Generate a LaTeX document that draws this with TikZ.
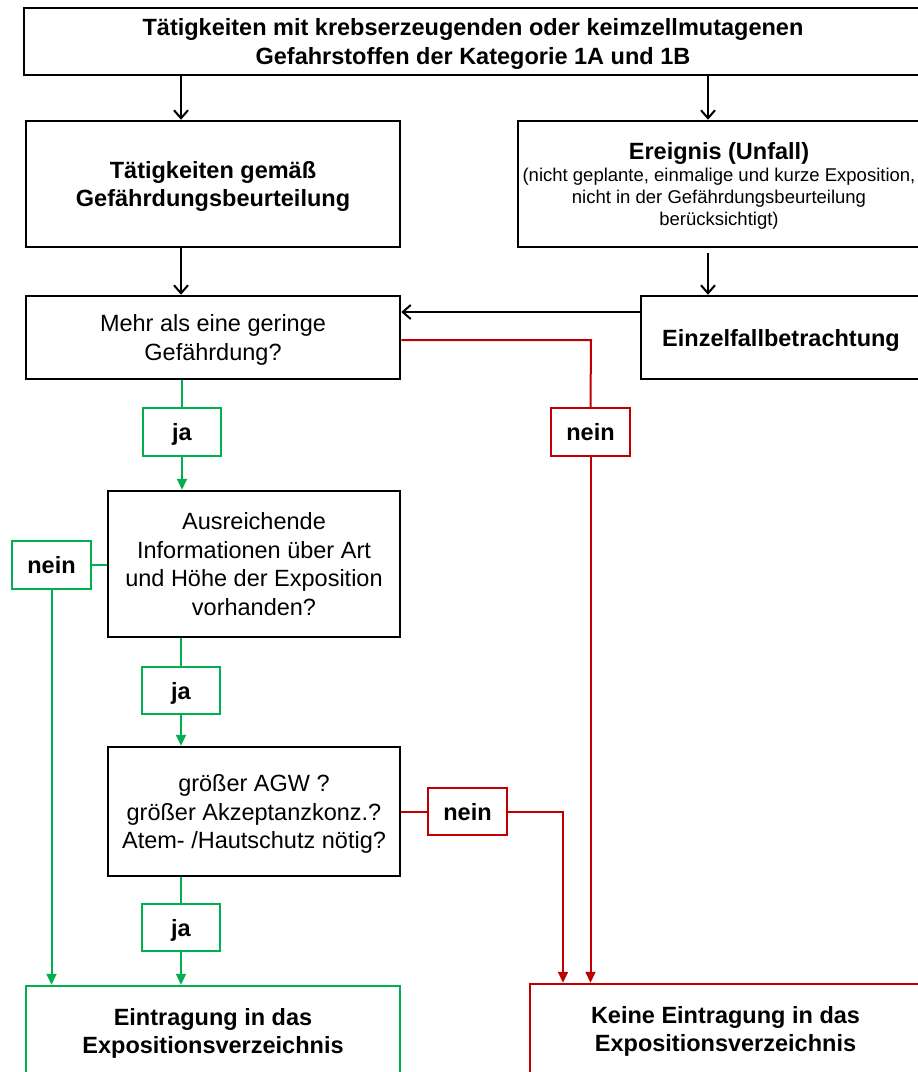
\documentclass[tikz,border=0pt]{standalone}
\usepackage{fontspec}
\setmainfont{Liberation Sans}
\usetikzlibrary{arrows.meta}
\definecolor{ogreen}{HTML}{00B050}
\definecolor{ored}{HTML}{C00000}
\tikzset{
  box/.style={draw=black, line width=2.5pt, inner sep=1pt, align=center, text depth=0pt, font=\fontsize{23.5}{28.5}\selectfont},
  bbox/.style={box, font=\fontsize{23.5}{28.5}\selectfont\bfseries},
  gbox/.style={draw=ogreen, line width=2.5pt, inner sep=1pt, align=center, text depth=0pt, font=\fontsize{23.5}{28.5}\selectfont\bfseries},
  rbox/.style={draw=ored, line width=2.5pt, inner sep=1pt, align=center, text depth=0pt, font=\fontsize{23.5}{28.5}\selectfont\bfseries},
  barr/.style={draw=black, line width=2pt, -{Straight Barb[length=8pt,width=14pt]}},
  gline/.style={draw=ogreen, line width=2pt},
  rline/.style={draw=ored, line width=2pt},
  garr/.style={gline, -{Triangle[length=11pt,width=10pt]}},
  rarr/.style={rline, -{Triangle[length=11pt,width=10pt]}},
}
\begin{document}
\begin{tikzpicture}[x=1pt,y=-1pt]
\useasboundingbox (0,0) rectangle (918,1072);
\clip (0,0) rectangle (918,1072);
% nodes
\node[bbox, minimum width=898pt, minimum height=67pt, font=\fontsize{23.5}{29}\selectfont\bfseries] (top) at (473,41.5)
  {Tätigkeiten mit krebserzeugenden oder keimzellmutagenen\\Gefahrstoffen der Kategorie 1A und 1B};
\node[bbox, minimum width=374pt, minimum height=126pt] (taet) at (213,184)
  {Tätigkeiten gemäß\\Gefährdungsbeurteilung};
\node[box, minimum width=402pt, minimum height=126pt, font=\fontsize{18.5}{22}\selectfont] (ereig) at (719,184)
  {{\fontsize{23.5}{24}\selectfont\bfseries Ereignis (Unfall)}\\(nicht geplante, einmalige und kurze Exposition,\\nicht in der Gefährdungsbeurteilung\\berücksichtigt)};
\node[box, minimum width=374pt, minimum height=83pt] (mehr) at (213,337.5)
  {Mehr als eine geringe\\Gefährdung?};
\node[bbox, minimum width=280pt, minimum height=83pt] (einz) at (781,337.5)
  {Einzelfallbetrachtung};
\node[gbox, minimum width=78pt, minimum height=48pt] (ja1) at (182,432) {ja};
\node[rbox, minimum width=79pt, minimum height=48pt] (nein1) at (590.5,432) {nein};
\node[box, minimum width=292pt, minimum height=146pt] (ausr) at (254,564)
  {Ausreichende\\Informationen über Art\\und Höhe der Exposition\\vorhanden?};
\node[gbox, minimum width=79pt, minimum height=48pt] (nein3) at (51.5,565) {nein};
\node[gbox, minimum width=78pt, minimum height=47pt] (ja2) at (181,690.5) {ja};
\node[box, minimum width=292pt, minimum height=129pt] (groe) at (254,811.5)
  {größer AGW ?\\größer Akzeptanzkonz.?\\Atem- /Hautschutz nötig?};
\node[rbox, minimum width=79pt, minimum height=47pt] (nein2) at (467.5,811.5) {nein};
\node[gbox, minimum width=78pt, minimum height=47pt] (ja3) at (181,927.5) {ja};
\node[gbox, minimum width=374pt, minimum height=90pt] (eintr) at (213,1031)
  {Eintragung in das\\Expositionsverzeichnis};
\node[rbox, minimum width=391pt, minimum height=90pt] (keine) at (725.5,1029)
  {Keine Eintragung in das\\Expositionsverzeichnis};
% coordinates
\coordinate (xL) at (181,0);
\coordinate (xR) at (708,0);
\coordinate (yE) at (0,253);
\coordinate (yEz) at (0,312);
\coordinate (yMr) at (0,340);
\coordinate (xMr) at (591,0);
\coordinate (xG) at (563,0);
% black connectors
\draw[barr] (top.south -| xL) -- (taet.north -| xL);
\draw[barr] (top.south -| xR) -- (ereig.north -| xR);
\draw[barr] (taet.south -| xL) -- (mehr.north -| xL);
\draw[barr] (xR |- yE) -- (einz.north -| xR);
\draw[barr] (einz.west |- yEz) -- (mehr.east |- yEz);
% green connectors
\draw[gline] (mehr.south -| ja1) -- (ja1.north);
\draw[garr] (ja1.south) -- (ausr.north -| ja1);
\draw[gline] (ausr.west |- nein3) -- (nein3.east);
\draw[garr] (nein3.south) -- (eintr.north -| nein3);
\draw[gline] (ausr.south -| ja2) -- (ja2.north);
\draw[garr] (ja2.south) -- (groe.north -| ja2);
\draw[gline] (groe.south -| ja3) -- (ja3.north);
\draw[garr] (ja3.south) -- (eintr.north -| ja3);
% red connectors
\draw[rline] (mehr.east |- yMr) -- (xMr |- yMr) -- (nein1.north);
\draw[rarr] (nein1.south) -- (keine.north -| nein1);
\draw[rline] (groe.east |- nein2) -- (nein2.west);
\draw[rarr] (nein2.east) -- (xG |- nein2) -- (keine.north -| xG);
\end{tikzpicture}
\end{document}
